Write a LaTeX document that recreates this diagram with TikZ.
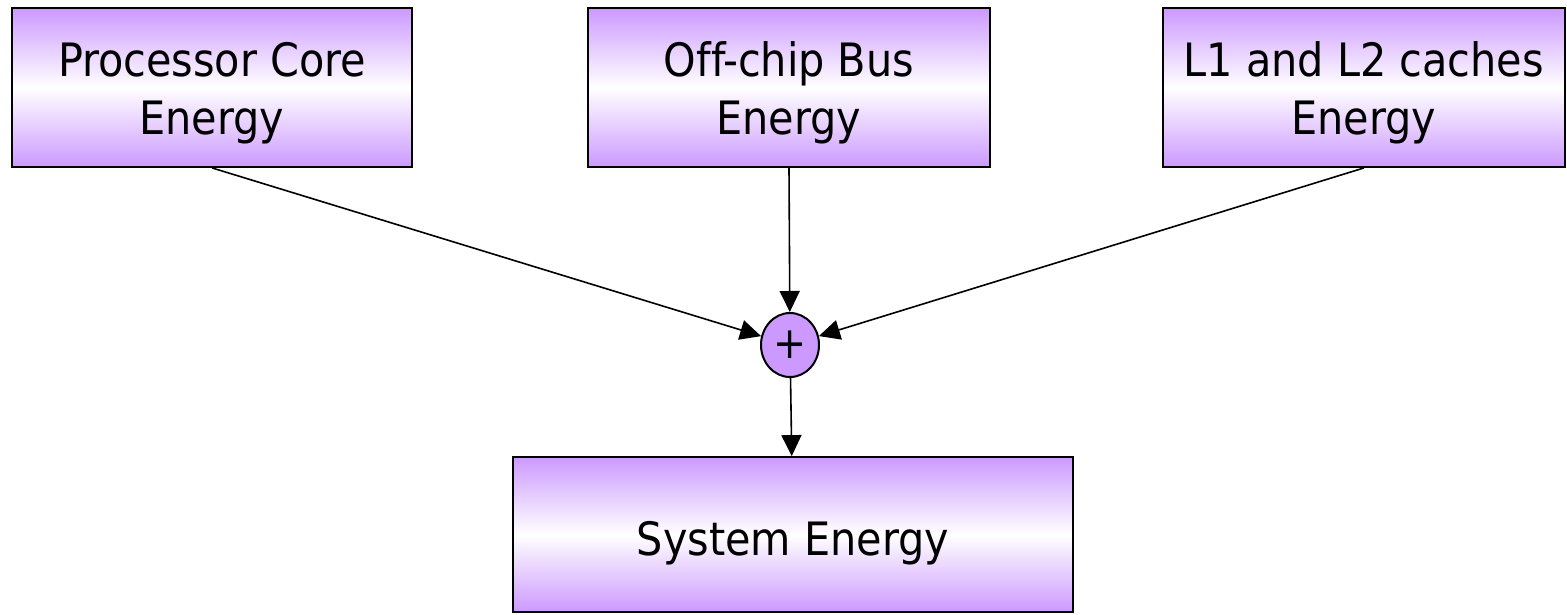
\documentclass[tikz,border=0pt]{standalone}
\usepackage{fontspec}
\setmainfont[Ligatures=NoCommon]{DejaVu Sans Condensed}
\usetikzlibrary{arrows.meta,shapes.geometric}
\definecolor{lav}{HTML}{CC99FF}
\tikzset{
  ebox/.style={draw=black, line width=1.8pt, rectangle, inner sep=0pt, align=center,
    top color=lav, bottom color=lav, middle color=white,
    font=\fontsize{46}{58}\selectfont},
  sumnode/.style={draw=black, line width=2pt, ellipse, fill=lav, inner sep=0pt,
    minimum width=58pt, minimum height=64pt, font=\fontsize{44}{44}\selectfont},
  conn/.style={line width=1.6pt, -{Triangle[length=21pt,width=20pt]}}
}
\begin{document}
\begin{tikzpicture}[x=1pt,y=-1pt]
\useasboundingbox (0,0) rectangle (1567,614);
\node[ebox, minimum width=400pt, minimum height=159pt] (core) at (212,87.5) {\rule{0pt}{46pt}Processor Core\\Energy};
\node[ebox, minimum width=402pt, minimum height=159pt] (bus) at (789,87.5) {\rule{0pt}{46pt}Off-chip Bus\\Energy};
\node[ebox, minimum width=402pt, minimum height=159pt] (cache) at (1364,87.5) {\rule{0pt}{46pt}L1 and L2 caches\\Energy};
\node[ebox, minimum width=560pt, minimum height=155pt] (sys) at (793,534.5) {\rule{0pt}{52pt}System Energy};
\node[sumnode] (plus) at (790,345) {+};
\draw[conn] (core.south) -- (plus);
\draw[conn] (bus.south) -- (plus);
\draw[conn] (cache.south) -- (plus);
\draw[conn] (plus) -- (sys);
\end{tikzpicture}
\end{document}
